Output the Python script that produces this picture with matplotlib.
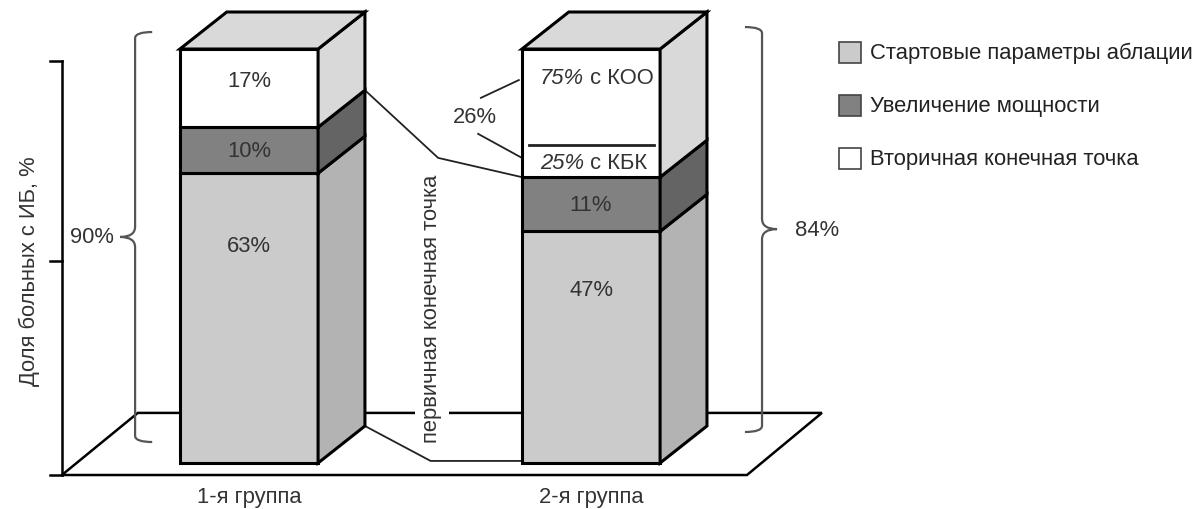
import matplotlib.pyplot as plt
import numpy as np
from matplotlib.patches import Polygon, Rectangle, PathPatch
from matplotlib.path import Path

plt.rcParams['font.family'] = ['Liberation Sans', 'DejaVu Sans']

# данные
groups = ['1-я группа', '2-я группа']
series = ['Стартовые параметры аблации', 'Увеличение мощности', 'Вторичная конечная точка']
start_params = [63, 47]
power_up = [10, 11]
secondary = [17, 26]
secondary_split = ['75%', '25%']   # доли вторичной конечной точки во 2-й группе
split_names = [' с КОО', ' с КБК']
koo_share = 75

front_colors = ['#cbcbcb', '#818181', '#ffffff']
side_colors = ['#b3b3b3', '#646464', '#d9d9d9']
top_color = '#d9d9d9'
txt = '#333333'
fs = 15.8

values = np.array([start_params, power_up, secondary], dtype=float)
totals = values.sum(axis=0)
shares = values / totals * 100  # каждый столбик нормирован на 100

fig = plt.figure(figsize=(11.94, 5.10), dpi=100)
ax = fig.add_axes([0, 0, 1, 1])
ax.set_xlim(-0.728, 2.763)
ax.set_ylim(-11.11, 112.08)
ax.axis('off')

x = np.arange(len(groups))
width = 0.404
dx, dy = 0.137, 8.94  # глубина "3D"

# пол и ось
floor = Polygon([(-0.547, -2.9), (1.456, -2.9), (1.675, 12.1), (-0.325, 12.1)],
                closed=True, fill=False, ec='black', lw=1.8, zorder=1)
ax.add_patch(floor)
ax.plot([-0.547, -0.547], [-2.9, 97.1], color='black', lw=1.8, zorder=1)
for ty in [-2.9, 48.8, 97.1]:
    ax.plot([-0.582, -0.547], [ty, ty], color='black', lw=1.8, zorder=1)
ax.text(-0.643, 46.6, 'Доля больных с ИБ, %', rotation=90, ha='center', va='center',
        fontsize=fs, color=txt)

# столбики
bottoms = np.zeros(len(groups))
label_pos = [0.75, 0.5, 0.6]
for i in range(3):
    ax.bar(x, shares[i], width, bottom=bottoms, color=front_colors[i],
           edgecolor='black', linewidth=2.2, zorder=3)
    for j, (xi, b, h) in enumerate(zip(x, bottoms, shares[i])):
        xr = xi + width / 2
        ax.add_patch(Polygon([(xr, b), (xr + dx, b + dy), (xr + dx, b + h + dy), (xr, b + h)],
                             closed=True, fc=side_colors[i], ec='black', lw=2.2, zorder=3))
        if not (i == 2 and j == 1):
            ax.text(xi, b + h * label_pos[i], '%d%%' % values[i, j], ha='center', va='center',
                    fontsize=fs, color=txt, zorder=5)
    bottoms += shares[i]

for xi, top in zip(x, bottoms):
    xl, xr = xi - width / 2, xi + width / 2
    ax.add_patch(Polygon([(xl, top), (xl + dx, top + dy), (xr + dx, top + dy), (xr, top)],
                         closed=True, fc=top_color, ec='black', lw=2.2, zorder=3))

# разбивка вторичной точки во 2-й группе
b2 = shares[0, 1] + shares[1, 1]
split_y = b2 + shares[2, 1] * (100 - koo_share) / 100
ax.plot([x[1] - width / 2 + 0.02, x[1] + width / 2 - 0.018], [split_y, split_y],
        color='#222222', lw=2, zorder=4)
for ty, pct, name in zip([93.2, 72.7], secondary_split, split_names):
    t = ax.text(0.851, ty, pct, style='italic', ha='left', va='center', fontsize=fs,
                color=txt, zorder=5)
    ax.annotate(name, xy=(1, 0), xycoords=t, ha='left', va='bottom', fontsize=fs,
                color=txt, zorder=5)

ax.text(0.661, 83.8, '%d%%' % secondary[1], ha='center', va='center', fontsize=fs, color=txt)
ax.plot([0.678, 0.789], [88.2, 92.5], color='#222222', lw=1.3, zorder=2)
ax.plot([0.670, 0.798], [79.5, 73.7], color='#222222', lw=1.3, zorder=2)

# соединительные линии (первичная конечная точка)
p1 = shares[0, 0] + shares[1, 0]
p2 = shares[0, 1] + shares[1, 1]
ax.plot([x[0] + width / 2 + dx, 0.553, x[1] - width / 2], [p1 + dy, 73.7, p2],
        color='#222222', lw=1.3, zorder=2)
ax.plot([x[0] + width / 2 + dx, 0.531, x[1] - width / 2], [dy, 0.5, 0.5],
        color='#222222', lw=1.3, zorder=2)
ax.text(0.535, 37.4, 'первичная конечная точка', rotation=90, ha='center', va='center',
        fontsize=fs, color=txt, zorder=4,
        bbox=dict(boxstyle='square,pad=0.3', fc='white', ec='none'))


def brace(xb, y0, y1, ym, h, t, r=1.5, rt=2.5):
    verts = [(xb + h, y1), (xb, y1), (xb, y1 - r),
             (xb, ym + rt), (xb, ym), (xb - t, ym),
             (xb, ym), (xb, ym - rt),
             (xb, y0 + r), (xb, y0), (xb + h, y0)]
    codes = [Path.MOVETO, Path.CURVE3, Path.CURVE3,
             Path.LINETO, Path.CURVE3, Path.CURVE3,
             Path.CURVE3, Path.CURVE3,
             Path.LINETO, Path.CURVE3, Path.CURVE3]
    ax.add_patch(PathPatch(Path(verts, codes), fill=False, ec='#555555', lw=1.6, zorder=2))


brace(-0.333, 5.07, 104.1, 54.6, 0.05, 0.044)
ax.text(-0.395, 54.6, '%d%%' % totals[0], ha='right', va='center', fontsize=fs, color=txt)
brace(1.5, 7.49, 105.3, 56.5, -0.05, -0.044)
ax.text(1.596, 56.5, '%d%%' % totals[1], ha='left', va='center', fontsize=fs, color=txt)

# подписи групп
for xi, g in zip(x, groups):
    ax.text(xi, -8.0, g, ha='center', va='center', fontsize=fs, color=txt)

# легенда
for ly, c, name in zip([99.15, 86.35, 73.55], front_colors, series):
    ax.add_patch(Rectangle((1.725, ly - 2.53), 0.0643, 5.07, fc=c, ec='#444444', lw=1.2))
    ax.text(1.816, ly, name, ha='left', va='center', fontsize=fs, color='#222222')

fig.savefig('out.png', dpi=100)
